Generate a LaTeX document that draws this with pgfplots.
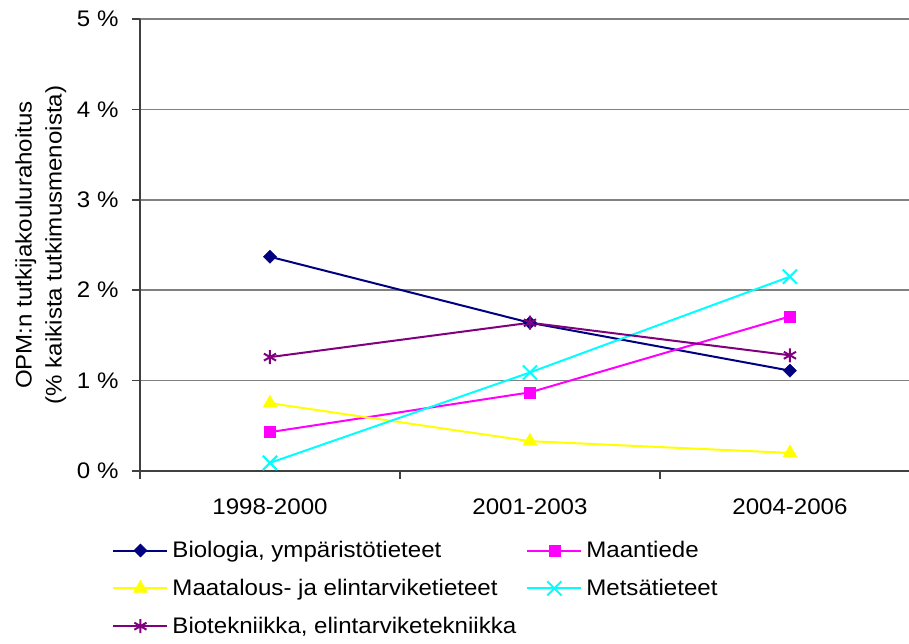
\documentclass[border=0pt]{standalone}
\usepackage{fontspec}
\setmainfont[FakeStretch=1.07]{Liberation Sans}
\usepackage{pgfplots}
\pgfplotsset{compat=1.18}

\definecolor{cnavy}{RGB}{0,0,128}
\definecolor{cmagenta}{RGB}{255,0,255}
\definecolor{cyellow}{RGB}{255,255,0}
\definecolor{ccyan}{RGB}{0,255,255}
\definecolor{cpurple}{RGB}{128,0,128}
\definecolor{gridgray}{RGB}{128,128,128}
\definecolor{axisgray}{RGB}{64,64,64}

\newcommand{\chartfont}{\fontsize{22.5}{30}\selectfont}

\begin{document}
\begin{tikzpicture}
\begin{axis}[
    at={(140pt,172pt)}, anchor=south west,
    scale only axis, width=769pt, height=452pt,
    xmin=-0.5, xmax=2.458, ymin=0, ymax=5,
    axis x line*=bottom, axis y line*=left,
    axis line style={axisgray, line width=1.5pt},
    xtick={0,1,2},
    xticklabels={1998-2000,2001-2003,2004-2006},
    minor xtick={-0.5,0.5,1.5},
    major x tick style={draw=none},
    minor x tick style={axisgray, line width=1.5pt},
    ytick={0,1,2,3,4,5},
    y tick style={axisgray, line width=1.5pt},
    tick align=outside,
    major tick length=8pt, minor tick length=8pt,
    yticklabel={\pgfmathprintnumber{\tick} \%},
    /pgf/number format/assume math mode=true,
    ticklabel style={font=\chartfont},
    xticklabel style={yshift=-16pt},
    yticklabel style={xshift=-10pt},
    ymajorgrids=true,
    grid style={gridgray, line width=1.5pt},
    ylabel={OPM:n tutkijakoulurahoitus\\(\% kaikista tutkimusmenoista)},
    ylabel style={font=\chartfont, align=center, at={(axis description cs:-0.129,0.5)}, anchor=center},
    legend columns=2,
    legend cell align=left,
    legend style={at={(axis description cs:-0.04,-0.147)}, anchor=north west,
        draw=none, fill=none, font=\chartfont, row sep=16pt,
        nodes={inner xsep=4pt},
        /tikz/every even column/.append style={column sep=6pt}},
    legend image code/.code={\draw[mark repeat=2,mark phase=2,#1] plot coordinates {(0pt,0pt)(27pt,0pt)(54pt,0pt)};},
    every axis plot/.append style={line width=2pt},
    clip=false,
]

\addplot[color=cnavy, mark=square*, mark size=4.6pt, mark options={rotate=45, solid, line width=0.5pt}] coordinates {
    (0,2.37)(1,1.64)(2,1.11)
};
\addlegendentry{Biologia, ympäristötieteet}

\addplot[color=cmagenta, mark=square*, mark size=5.5pt, mark options={line width=0.5pt}] coordinates {
    (0,0.43)(1,0.87)(2,1.71)
};
\addlegendentry{Maantiede}

\addplot[color=cyellow, mark=triangle*, mark size=8pt, mark options={line width=0.5pt}] coordinates {
    (0,0.75)(1,0.33)(2,0.20)
};
\addlegendentry{Maatalous- ja elintarviketieteet}

\addplot[color=ccyan, mark=x, mark size=10pt] coordinates {
    (0,0.09)(1,1.09)(2,2.15)
};
\addlegendentry{Metsätieteet}

\addplot[color=cpurple, mark=asterisk, mark size=7pt] coordinates {
    (0,1.26)(1,1.64)(2,1.28)
};
\addlegendentry{Biotekniikka, elintarviketekniikka}

\end{axis}
\pgfresetboundingbox
\path (0pt,0pt) rectangle (909pt,643pt);
\end{tikzpicture}
\end{document}
